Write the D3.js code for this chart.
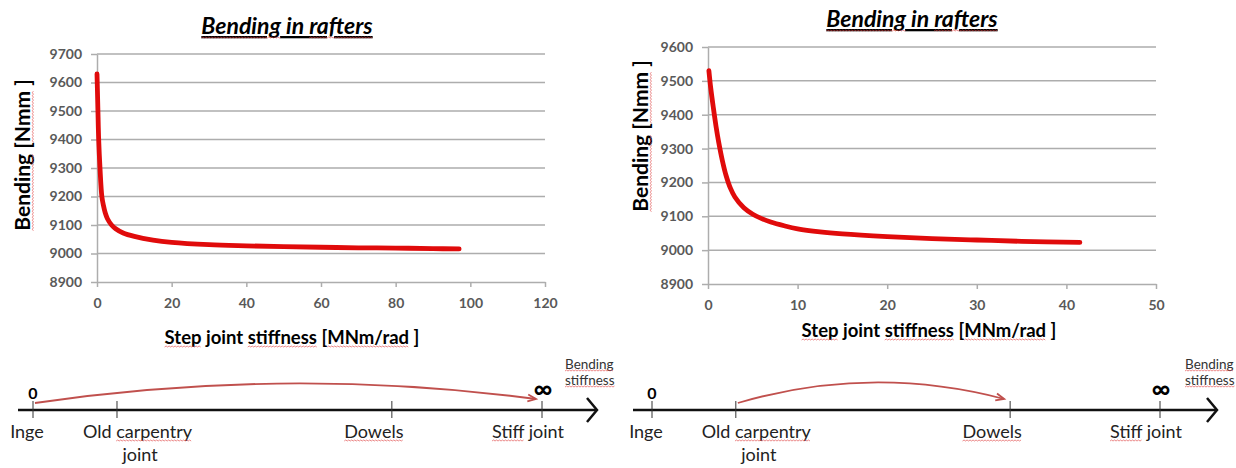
<!DOCTYPE html>
<html>
<head>
<meta charset="utf-8">
<script src="https://cdn.jsdelivr.net/npm/d3@7"></script>
<style>
  body { margin: 0; background: #fff; }
  svg text { font-family: Lato, "Open Sans", sans-serif; }
</style>
</head>
<body>
<svg id="chart" width="1236" height="468"></svg>
<script>
// left chart: bending vs step joint stiffness (0..97 MNm/rad)
const leftK = [0, 0.1, 0.25, 0.45, 0.8, 1.3, 1.7, 2.2, 2.8, 3.9, 5, 7, 10, 15, 20, 30, 40, 50, 60, 70, 80, 90, 97];
const leftM = [9630, 9580, 9500, 9400, 9300, 9200, 9170, 9143, 9122, 9100, 9087, 9072, 9060, 9047, 9039, 9031, 9027, 9024, 9022, 9020, 9019, 9017, 9016];
const leftXTicks = [0, 20, 40, 60, 80, 100, 120];
const leftYTicks = [8900, 9000, 9100, 9200, 9300, 9400, 9500, 9600, 9700];

// right chart: 0..41.5 MNm/rad
const rightK = [0.1, 0.3, 0.6, 0.9, 1.2, 1.6, 2.0, 2.5, 3, 4, 5, 6, 7, 8.5, 10, 12.5, 15, 20, 25, 30, 35, 41.5];
const rightM = [9530, 9480, 9420, 9365, 9318, 9265, 9222, 9183, 9157, 9125, 9106, 9093, 9083, 9072, 9063, 9054, 9048, 9040, 9034, 9030, 9026, 9023];
const rightXTicks = [0, 10, 20, 30, 40, 50];
const rightYTicks = [8900, 9000, 9100, 9200, 9300, 9400, 9500, 9600];

// joint scale below the charts (schematic position 0..100)
const jointLabels = ['Inge', 'Old carpentry', 'Dowels', 'Stiff joint'];
const jointPos = [0, 16.5, 70.5, 100];

const svg = d3.select('#chart');
const gray = '#595959';

// red spell-check squiggle under one word of a text element
function squiggle(textEl, word) {
  const node = textEl.node();
  const s = node.textContent;
  const i = s.indexOf(word);
  if (i < 0) return;
  const a = node.getExtentOfChar(i);
  const b = node.getExtentOfChar(i + word.length - 1);
  const x0 = a.x, x1 = b.x + b.width;
  const y = a.y + a.height - 1;
  let d = `M${x0},${y}`;
  let up = true;
  for (let x = x0 + 1.5; x <= x1; x += 1.5) {
    d += `L${x},${up ? y - 1 : y}`;
    up = !up;
  }
  d3.select(node.parentNode).append('path')
    .attr('d', d)
    .attr('fill', 'none')
    .attr('stroke', '#e04848')
    .attr('stroke-width', 0.8)
    .attr('opacity', 0.8);
}

function drawChart(opt) {
  const x = d3.scaleLinear().domain(opt.xDomain).range(opt.xRange);
  const y = d3.scaleLinear().domain(opt.yDomain).range(opt.yRange);
  const g = svg.append('g');

  // gridlines
  g.selectAll('line.grid')
    .data(opt.yTicks.slice(1))
    .enter().append('line')
    .attr('x1', opt.xRange[0]).attr('x2', opt.xRange[1])
    .attr('y1', d => y(d)).attr('y2', d => y(d))
    .attr('stroke', '#adadad')
    .attr('stroke-width', 1.5);

  const yAxis = g.append('g')
    .attr('transform', `translate(${opt.xRange[0]},0)`)
    .call(d3.axisLeft(y).tickValues(opt.yTicks).tickFormat(d3.format('d'))
      .tickSizeInner(6).tickSizeOuter(0).tickPadding(9));
  const xAxis = g.append('g')
    .attr('transform', `translate(0,${opt.yRange[0]})`)
    .call(d3.axisBottom(x).tickValues(opt.xTicks).tickFormat(d3.format('d'))
      .tickSizeInner(5).tickSizeOuter(0).tickPadding(11));

  [yAxis, xAxis].forEach(ax => {
    ax.select('.domain').attr('stroke', '#adadad').attr('stroke-width', 1.5);
    ax.selectAll('.tick line').attr('stroke', '#adadad').attr('stroke-width', 1.5);
    ax.selectAll('.tick text')
      .attr('fill', gray)
      .style('font-size', '14px')
      .style('font-weight', 'bold')
      .style('font-family', 'Lato, sans-serif');
  });

  const pts = opt.k.map((k, i) => [k, opt.m[i]]);
  g.append('path')
    .datum(pts)
    .attr('d', d3.line().x(d => x(d[0])).y(d => y(d[1])).curve(d3.curveCatmullRom.alpha(0.5)))
    .attr('fill', 'none')
    .attr('stroke', '#e00b0b')
    .attr('stroke-width', 4.8)
    .attr('stroke-linecap', 'round');

  // title
  const t = g.append('text')
    .attr('x', opt.title[0]).attr('y', opt.title[1])
    .attr('text-anchor', 'middle')
    .style('font-size', '23px')
    .style('font-weight', 'bold')
    .style('font-style', 'italic')
    .attr('text-decoration', 'underline')
    .text('Bending in rafters');
  squiggle(t, 'Bending');
  squiggle(t, 'rafters');

  // y title
  const yt = g.append('g')
    .attr('transform', `translate(${opt.yTitle[0]},${opt.yTitle[1]}) rotate(-90)`)
    .append('text')
    .attr('text-anchor', 'middle')
    .attr('dy', '0.35em')
    .style('font-size', '21px')
    .style('font-weight', 'bold')
    .text('Bending [Nmm ]');
  squiggle(yt, 'Bending');
  squiggle(yt, 'Nmm');

  // x title
  const xt = g.append('text')
    .attr('x', opt.xTitle[0]).attr('y', opt.xTitle[1])
    .attr('text-anchor', 'middle')
    .style('font-size', '18.5px')
    .style('font-weight', 'bold')
    .text('Step joint stiffness [MNm/rad ]');
  squiggle(xt, 'Step');
  squiggle(xt, 'stiffness');
  squiggle(xt, 'MNm/rad');
}

function drawJoints(opt) {
  const s = d3.scaleLinear().domain([0, 100]).range(opt.range);
  const g = svg.append('g');
  const ay = opt.axisY;

  g.append('line')
    .attr('x1', opt.lineStart).attr('x2', opt.tip)
    .attr('y1', ay).attr('y2', ay)
    .attr('stroke', '#111').attr('stroke-width', 2.5);
  g.append('path')
    .attr('d', `M${opt.tip - 10},${ay - 12}L${opt.tip},${ay}L${opt.tip - 10},${ay + 12}`)
    .attr('fill', 'none').attr('stroke', '#111').attr('stroke-width', 2.5);

  g.selectAll('line.tk')
    .data(jointPos)
    .enter().append('line')
    .attr('x1', d => s(d)).attr('x2', d => s(d))
    .attr('y1', ay - 9).attr('y2', ay + 8)
    .attr('stroke', '#333').attr('stroke-width', 1);

  g.append('text').attr('x', s(0)).attr('y', ay - 11)
    .attr('text-anchor', 'middle').style('font-size', '16px').style('font-weight', 'bold').text('0');
  g.append('text').attr('x', s(100) + 1).attr('y', ay - 12)
    .attr('text-anchor', 'middle').style('font-size', '26px').style('font-weight', 'bold').text('∞');

  const lab = g.selectAll('text.lab')
    .data(jointLabels)
    .enter().append('text')
    .attr('y', ay + 28)
    .style('font-size', '18px')
    .attr('fill', '#222');
  lab.filter((d, i) => i === 0).attr('x', s(0) - 6).attr('text-anchor', 'middle').text(d => d);
  lab.filter((d, i) => i === 1).attr('x', s(jointPos[1]) - 34).attr('text-anchor', 'start').text(d => d);
  lab.filter((d, i) => i === 2).attr('x', s(jointPos[2]) - 18).attr('text-anchor', 'middle').text(d => d);
  lab.filter((d, i) => i === 3).attr('x', s(100) - 14).attr('text-anchor', 'middle').text(d => d);
  g.append('text').attr('x', s(jointPos[1]) + 23).attr('y', ay + 51)
    .attr('text-anchor', 'middle').style('font-size', '18px').attr('fill', '#222').text('joint');
  lab.each(function (d) {
    const t = d3.select(this);
    if (d === 'Old carpentry') squiggle(t, 'carpentry');
    if (d === 'Dowels') squiggle(t, 'Dowels');
    if (d === 'Stiff joint') squiggle(t, 'Stiff');
  });

  const b1 = g.append('text').attr('x', opt.tip - 32).attr('y', ay - 41)
    .style('font-size', '13.5px').attr('fill', '#333').text('Bending');
  const b2 = g.append('text').attr('x', opt.tip - 32).attr('y', ay - 25)
    .style('font-size', '13.5px').attr('fill', '#333').text('stiffness');
  squiggle(b1, 'Bending');
  squiggle(b2, 'stiffness');

  // red arrow arc
  const x0 = s(opt.arc[0]) + 2, x1 = s(opt.arc[1]) - 6;
  const y0 = ay - 7, y1 = ay - 11;
  const cx = (x0 + x1) / 2, cy = ay - opt.arcH;
  g.append('path')
    .attr('d', `M${x0},${y0}Q${cx},${cy} ${x1},${y1}`)
    .attr('fill', 'none').attr('stroke', '#c0504d').attr('stroke-width', 1.8);
  const ang = Math.atan2(y1 - cy, x1 - cx);
  const hl = 9;
  const p1 = [x1 - hl * Math.cos(ang - 0.4), y1 - hl * Math.sin(ang - 0.4)];
  const p2 = [x1 - hl * Math.cos(ang + 0.4), y1 - hl * Math.sin(ang + 0.4)];
  g.append('path')
    .attr('d', `M${p1[0]},${p1[1]}L${x1},${y1}L${p2[0]},${p2[1]}`)
    .attr('fill', 'none').attr('stroke', '#c0504d').attr('stroke-width', 1.8);
}

drawChart({
  k: leftK, m: leftM, xTicks: leftXTicks, yTicks: leftYTicks,
  xDomain: [0, 120], xRange: [97, 545],
  yDomain: [8900, 9700], yRange: [282, 54],
  title: [287, 34], yTitle: [23, 155], xTitle: [292, 344]
});
drawChart({
  k: rightK, m: rightM, xTicks: rightXTicks, yTicks: rightYTicks,
  xDomain: [0, 50], xRange: [708, 1156],
  yDomain: [8900, 9600], yRange: [284, 47],
  title: [912, 27], yTitle: [641, 136], xTitle: [929, 337]
});

drawJoints({ range: [33, 542], axisY: 410, lineStart: 18, tip: 597, arc: [0, 100], arcH: 44 });
drawJoints({ range: [652, 1160], axisY: 410, lineStart: 633, tip: 1217, arc: [16.5, 70.5], arcH: 46 });
</script>
</body>
</html>
